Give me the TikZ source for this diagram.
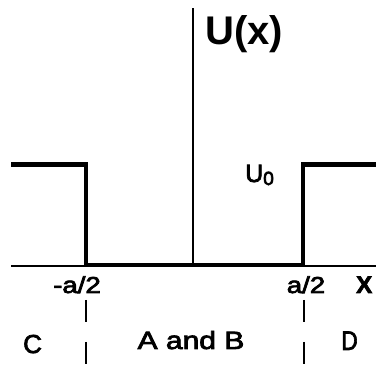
\documentclass[tikz,border=0pt]{standalone}
\usepackage{fontspec}
\setmainfont{Liberation Sans}
\usetikzlibrary{positioning,calc}
\newcommand{\wide}[1]{\scalebox{1.2}[1]{#1}}
\newcommand{\heavy}[1]{\special{pdf:literal direct 2 Tr 0.7 w}#1\special{pdf:literal direct 0 Tr}}

\begin{document}
\begin{tikzpicture}[x=1pt,y=1pt,
    thinline/.style={line width=1.4pt},
    wall/.style={line width=4.6pt,line cap=rect},
    guide/.style={line width=1.4pt,dash pattern=on 22pt off 20pt},
    lbl/.style={inner sep=0pt,font=\fontsize{23}{23}\selectfont},
    reg/.style={inner sep=0pt,font=\fontsize{26}{26}\selectfont}]
    \useasboundingbox (0,0) rectangle (376,367);
    % axes
    \coordinate (xl) at (11,101); \coordinate (xr) at (376,101);
    \coordinate (yb) at (193,101); \coordinate (yt) at (193,359);
    \draw[thinline] (xl)--(xr);
    \draw[thinline] (yb)--(yt);
    % square well
    \coordinate (p1) at (13,202.5); \coordinate (p2) at (86,202.5);
    \coordinate (p3) at (86,102); \coordinate (p4) at (303,102);
    \coordinate (p5) at (303,202.5); \coordinate (p6) at (378,202.5);
    \draw[wall,line join=miter] (p1)--(p2)--(p3)--(p4)--(p5)--(p6);
    % region borders
    \coordinate (g1) at (86,67); \coordinate (g2) at (86,0);
    \coordinate (g3) at (304,67); \coordinate (g4) at (304,0);
    \draw[guide] (g1)--(g2);
    \draw[guide] (g3)--(g4);
    % labels
    \node[inner sep=0pt,anchor=base west,font=\fontsize{40}{40}\selectfont\bfseries] (ux) at (205,322) {U(x)};
    \node[inner sep=0pt,anchor=base west,font=\fontsize{25}{25}\selectfont] (uzero) at (245,185)
      {\heavy{U\raisebox{-3pt}{\fontsize{19}{19}\selectfont 0}}};
    \node[lbl,anchor=base] (lmark) at (77,74) {\wide{\heavy{-a/2}}};
    \node[lbl,anchor=base] (rmark) at (306,74) {\wide{\heavy{a/2}}};
    \node[inner sep=0pt,anchor=base west,font=\fontsize{24}{24}\selectfont\bfseries] (xlab) at (356,74) {\heavy{X}};
    \node[reg,anchor=base west] (regc) at (23,14) {\heavy{C}};
    \node[inner sep=0pt,anchor=base,font=\fontsize{25}{25}\selectfont] (regab) at (191,18) {\wide{\heavy{A and B}}};
    \node[reg,anchor=base west,font=\fontsize{27}{27}\selectfont] (regd) at (341,17) {\scalebox{0.85}[1]{\heavy{D}}};
\end{tikzpicture}
\end{document}
